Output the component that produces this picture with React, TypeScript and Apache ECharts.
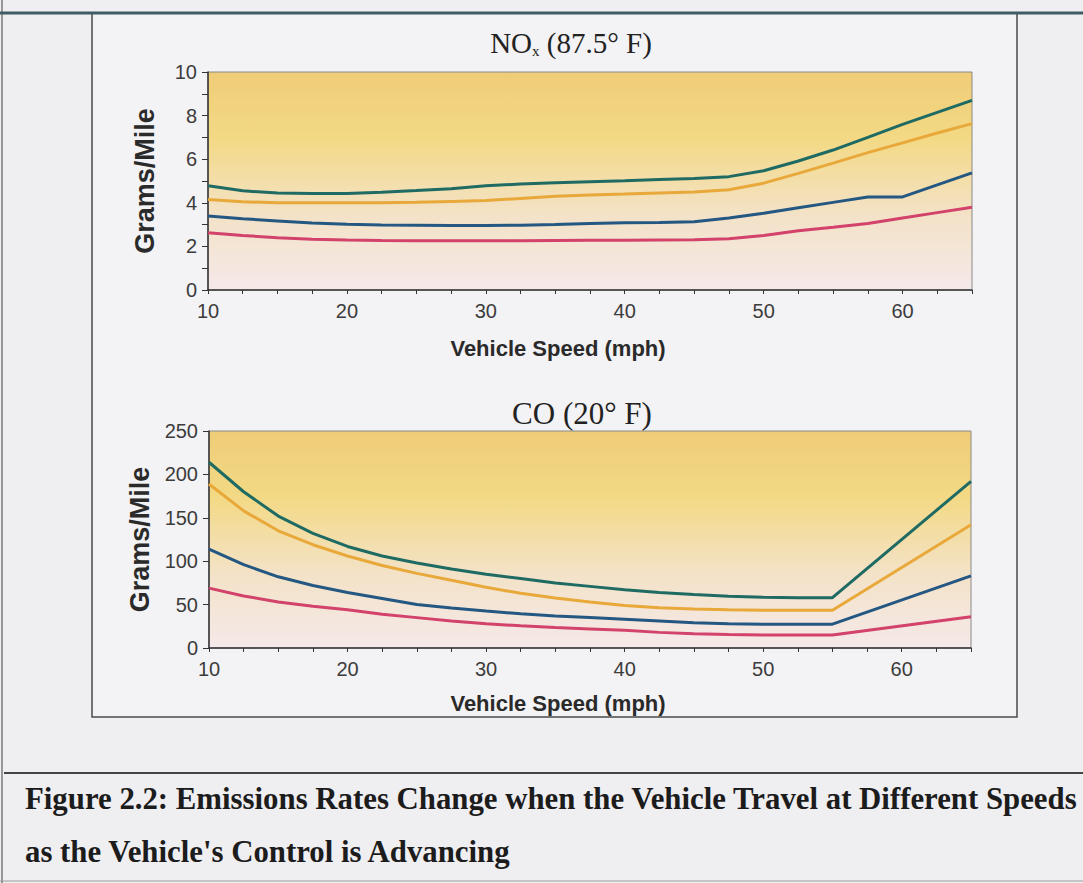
import React, { useEffect, useRef } from "react";
import * as echarts from "echarts";

// NOx chart (87.5° F)
const noxSpeeds = [10, 12.5, 15, 17.5, 20, 22.5, 25, 27.5, 30, 32.5, 35, 37.5, 40, 42.5, 45, 47.5, 50, 52.5, 55, 57.5, 60, 62.5, 65];
const noxTeal = [4.78, 4.55, 4.45, 4.43, 4.43, 4.48, 4.56, 4.65, 4.78, 4.86, 4.92, 4.97, 5.01, 5.07, 5.12, 5.2, 5.47, 5.92, 6.42, 7.0, 7.6, 8.15, 8.7];
const noxOrange = [4.15, 4.05, 4.0, 4.0, 4.0, 4.0, 4.02, 4.06, 4.1, 4.2, 4.3, 4.36, 4.4, 4.45, 4.5, 4.6, 4.9, 5.35, 5.82, 6.3, 6.75, 7.2, 7.63];
const noxBlue = [3.4, 3.27, 3.17, 3.07, 3.02, 2.98, 2.97, 2.96, 2.96, 2.97, 3.0, 3.05, 3.08, 3.1, 3.13, 3.3, 3.52, 3.77, 4.02, 4.27, 4.27, 4.82, 5.37];
const noxRed = [2.63, 2.5, 2.4, 2.33, 2.29, 2.27, 2.26, 2.26, 2.26, 2.26, 2.27, 2.28, 2.28, 2.29, 2.3, 2.35, 2.5, 2.72, 2.88, 3.05, 3.3, 3.55, 3.8];

// CO chart (20° F)
const coSpeeds = [10, 12.5, 15, 17.5, 20, 22.5, 25, 27.5, 30, 32.5, 35, 37.5, 40, 42.5, 45, 47.5, 50, 52.5, 55, 65];
const coTeal = [214, 180, 152, 132, 117, 106, 98, 91, 85, 80, 75, 71, 67, 64, 61.5, 59.5, 58.5, 58, 58, 192];
const coOrange = [189, 158, 135, 119, 106, 95, 86, 78, 70, 63, 57.5, 53, 49, 46.5, 45, 44, 43.5, 43.5, 43.5, 142];
const coBlue = [114, 96, 82, 72, 64, 57, 50, 46, 42.5, 39.5, 37, 35, 33, 31, 29, 28, 27.5, 27.5, 27.5, 83];
const coRed = [69, 60, 53, 48, 44, 39, 35, 31, 28, 25.5, 23.5, 22, 20.5, 18, 16.5, 15.5, 15, 15, 15, 36];

const noxTicks = [0, 2, 4, 6, 8, 10];
const coTicks = [0, 50, 100, 150, 200, 250];
const speedTicks = [10, 20, 30, 40, 50, 60];

const titleNox = "NO{sub|x} (87.5° F)";
const titleCo = "CO (20° F)";
const xName = "Vehicle Speed (mph)";
const yName = "Grams/Mile";
const caption1 = "Figure 2.2: Emissions Rates Change when the Vehicle Travel at Different Speeds";
const caption2 = "as the Vehicle's Control is Advancing";

const colors = { teal: "#1f6b63", orange: "#e8a93a", blue: "#245782", red: "#d2426a" };

const pair = (xs: number[], ys: number[]) => xs.map((x, i) => [x, ys[i]]);

export default function App() {
  const ref = useRef<HTMLDivElement>(null);
  useEffect(() => {
    if (!ref.current) return;
    const chart = echarts.init(ref.current, null, { renderer: "svg" });
    const plotBg = new echarts.graphic.LinearGradient(0, 0, 0, 1, [
      { offset: 0, color: "#efcc78" },
      { offset: 0.3, color: "#f3d984" },
      { offset: 0.65, color: "#f3e2c6" },
      { offset: 1, color: "#f5e9ea" },
    ]);
    const axisFont = { fontFamily: "Liberation Sans", fontSize: 20, color: "#3c3c3c" };
    const nameFont = {
      fontFamily: "Liberation Sans",
      fontSize: 22,
      fontWeight: "bold" as const,
      color: "#2a2a2a",
      padding: [0, 64, 0, 0],
    };
    const yNameFont = { fontFamily: "Liberation Sans", fontSize: 27, fontWeight: "bold" as const, color: "#2a2a2a" };
    const xAxisBase = (gi: number, gap: number) => ({
      type: "value",
      gridIndex: gi,
      min: 10,
      max: 65,
      interval: 2.5,
      name: xName,
      nameLocation: "middle",
      nameGap: gap,
      nameTextStyle: nameFont,
      axisLine: { show: true, lineStyle: { color: "#333", width: 1.5 } },
      axisTick: { show: true, length: 4, lineStyle: { color: "#333" } },
      splitLine: { show: false },
      axisLabel: {
        ...axisFont,
        margin: 11,
        formatter: (v: number) => (speedTicks.includes(v) ? String(v) : ""),
      },
    });
    const yAxisBase = (gi: number, max: number, interval: number, ticks: number[], gap: number) => ({
      type: "value",
      gridIndex: gi,
      min: 0,
      max,
      interval,
      name: yName,
      nameLocation: "middle",
      nameGap: gap,
      nameRotate: 90,
      nameTextStyle: yNameFont,
      axisLine: { show: true, lineStyle: { color: "#333", width: 1.5 } },
      axisTick: { show: true, length: 6, lineStyle: { color: "#333" } },
      splitLine: { show: false },
      axisLabel: {
        ...axisFont,
        margin: 11,
        formatter: (v: number) => (ticks.includes(v) ? String(v) : ""),
      },
    });
    const line = (name: string, data: number[][], color: string, gi: number) => ({
      type: "line",
      name,
      xAxisIndex: gi,
      yAxisIndex: gi,
      data,
      symbol: "none",
      smooth: false,
      lineStyle: { color, width: 3 },
    });
    chart.setOption({
      animation: false,
      backgroundColor: "#efeef1",
      title: [
        {
          text: titleNox,
          left: 566,
          top: 22,
          textAlign: "center",
          textStyle: {
            fontFamily: "Liberation Serif",
            fontSize: 29,
            fontWeight: "normal",
            color: "#222",
            rich: {
              sub: { fontFamily: "Liberation Serif", fontSize: 15, color: "#222", verticalAlign: "bottom", padding: [16, 0, 0, 0] },
            },
          },
        },
        {
          text: titleCo,
          left: 577,
          top: 393,
          textAlign: "center",
          textStyle: { fontFamily: "Liberation Serif", fontSize: 31, fontWeight: "normal", color: "#222" },
        },
      ],
      grid: [
        { left: 208, top: 72, width: 764, height: 218, show: true, backgroundColor: plotBg, borderColor: "#8a8a8a", borderWidth: 1 },
        { left: 209, top: 431, width: 762, height: 217, show: true, backgroundColor: plotBg, borderColor: "#8a8a8a", borderWidth: 1 },
      ],
      xAxis: [xAxisBase(0, 47), xAxisBase(1, 44)],
      yAxis: [yAxisBase(0, 10, 1, noxTicks, 50), yAxisBase(1, 250, 50, coTicks, 52)],
      series: [
        line("NOx high", pair(noxSpeeds, noxTeal), colors.teal, 0),
        line("NOx mid-high", pair(noxSpeeds, noxOrange), colors.orange, 0),
        line("NOx mid-low", pair(noxSpeeds, noxBlue), colors.blue, 0),
        line("NOx low", pair(noxSpeeds, noxRed), colors.red, 0),
        line("CO high", pair(coSpeeds, coTeal), colors.teal, 1),
        line("CO mid-high", pair(coSpeeds, coOrange), colors.orange, 1),
        line("CO mid-low", pair(coSpeeds, coBlue), colors.blue, 1),
        line("CO low", pair(coSpeeds, coRed), colors.red, 1),
      ],
      graphic: [
        { type: "rect", z: -10, shape: { x: 92, y: 13, width: 925, height: 704 }, style: { fill: "#f3f2f4", stroke: "#4a4a4a", lineWidth: 1.5 } },
        { type: "line", z: 10, shape: { x1: 0, y1: 13, x2: 1083, y2: 13 }, style: { stroke: "#3d5c63", lineWidth: 3 } },
        { type: "line", shape: { x1: 2, y1: 0, x2: 2, y2: 883 }, style: { stroke: "#7a7a7a", lineWidth: 1.5 } },
        { type: "line", shape: { x1: 4, y1: 773, x2: 1083, y2: 773 }, style: { stroke: "#444", lineWidth: 2 } },
        { type: "line", shape: { x1: 0, y1: 881, x2: 1083, y2: 881 }, style: { stroke: "#9a9a9a", lineWidth: 1 } },
        {
          type: "text",
          x: 25,
          y: 783,
          style: { text: caption1, font: "bold 30.8px 'Liberation Serif'", fill: "#1c1c1c" },
        },
        {
          type: "text",
          x: 25,
          y: 836,
          style: { text: caption2, font: "bold 30.8px 'Liberation Serif'", fill: "#1c1c1c" },
        },
      ],
    });
    return () => chart.dispose();
  }, []);
  return <div ref={ref} style={{ position: "fixed", left: 0, top: 0, width: 1083, height: 883 }} />;
}
